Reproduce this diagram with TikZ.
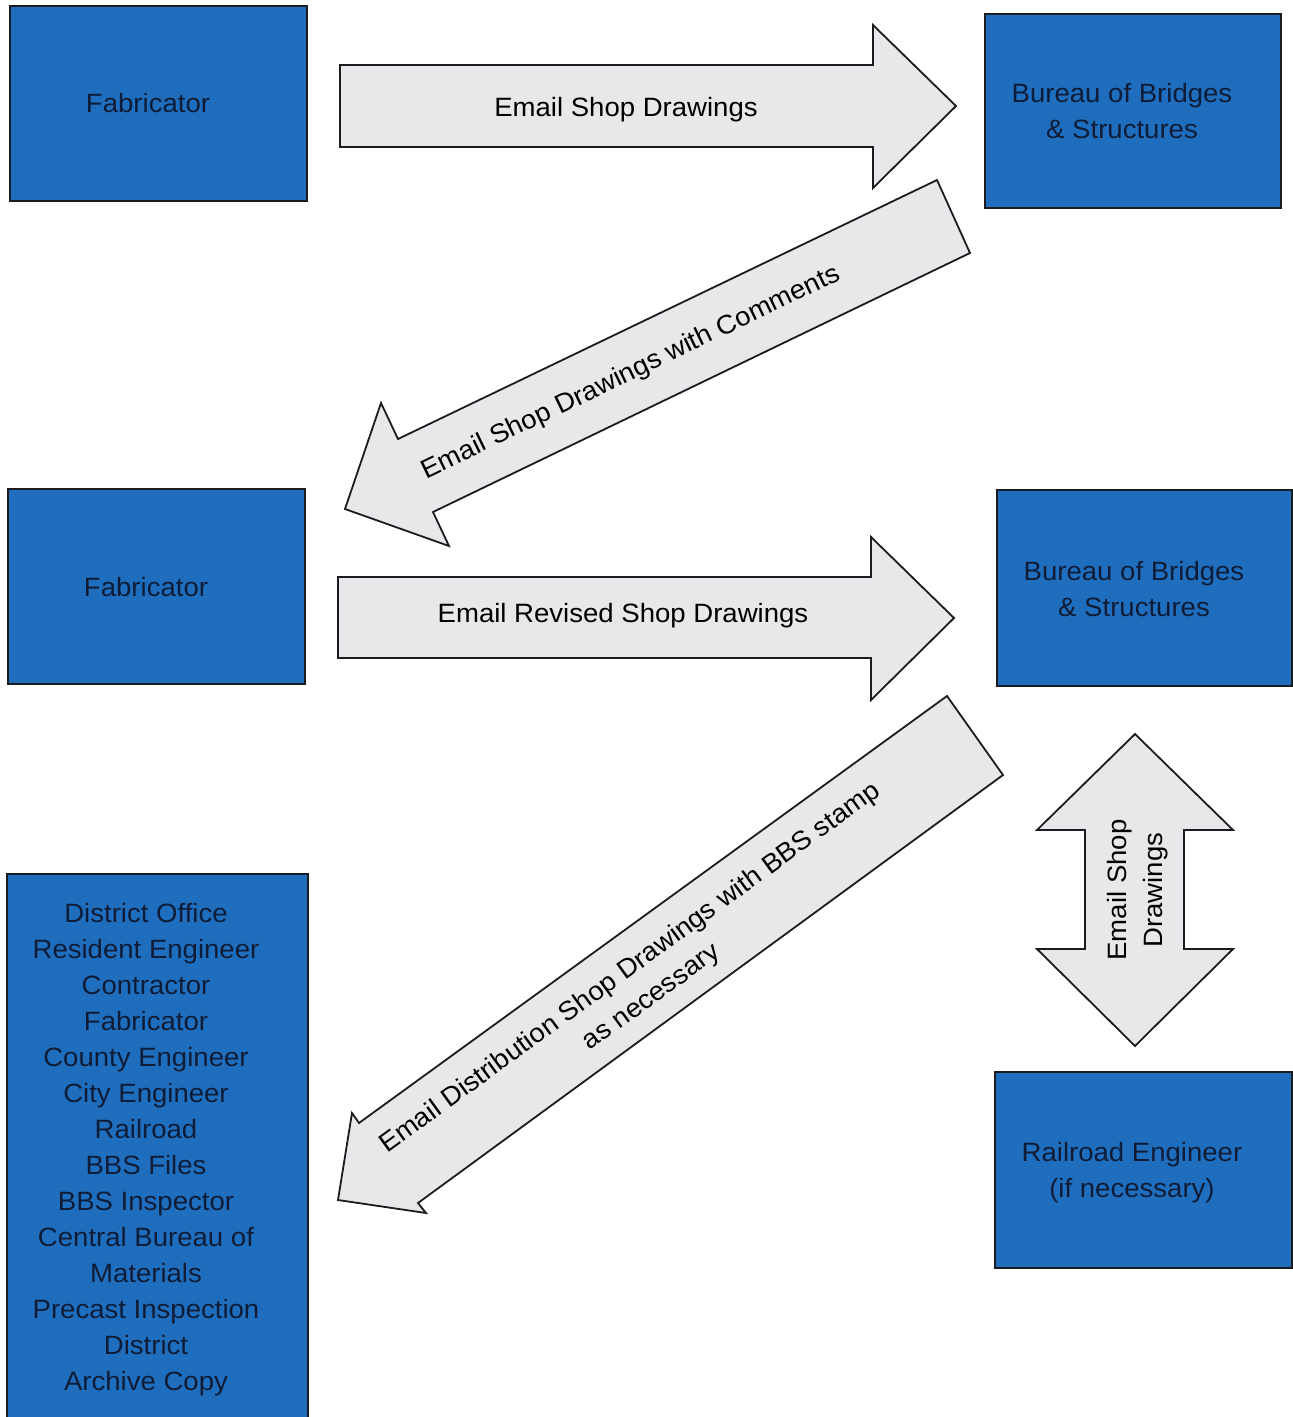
\documentclass[tikz,border=0pt]{standalone}
\usepackage{fontspec}
\setmainfont{Liberation Sans}[FakeStretch=1.04]
\definecolor{boxblue}{RGB}{31,110,190}
\definecolor{boxtext}{RGB}{15,28,55}
\definecolor{arrowfill}{RGB}{232,232,234}
\definecolor{edgecol}{RGB}{28,28,32}
\tikzset{
  bluebox/.style={draw=edgecol, line width=1.8pt, fill=boxblue, rectangle, inner sep=0pt},
  boxlabel/.style={text=boxtext, font=\fontsize{26.5}{36}\selectfont, align=center, inner sep=0pt, anchor=base},
  arrowlabel/.style={text=black, font=\fontsize{26.5}{36}\selectfont, align=center, inner sep=0pt},
  blockarrow/.style={draw=edgecol, line width=1.8pt, fill=arrowfill, line join=miter},
}
\begin{document}
\begin{tikzpicture}[x=1pt, y=-1pt]
\useasboundingbox[fill=white] (0,0) rectangle (1293,1417);

% boxes
\node[bluebox, minimum width=297pt, minimum height=195pt] (fab1) at (158.5,103.5) {};
\node[bluebox, minimum width=296pt, minimum height=194pt] (bbs1) at (1133,111) {};
\node[bluebox, minimum width=297pt, minimum height=195pt] (fab2) at (156.5,586.5) {};
\node[bluebox, minimum width=295pt, minimum height=196pt] (bbs2) at (1144.5,588) {};
\node[bluebox, minimum width=301pt, minimum height=560pt] (dist) at (157.5,1154) {};
\node[bluebox, minimum width=297pt, minimum height=196pt] (rr) at (1143.5,1170) {};

% box texts (base anchor = baseline of the last line)
\node[boxlabel] (fab1t) at (148,112) {Fabricator};
\node[boxlabel] (bbs1t) at (1122,138) {Bureau of Bridges\\\& Structures};
\node[boxlabel] (fab2t) at (146,596) {Fabricator};
\node[boxlabel] (bbs2t) at (1134,616) {Bureau of Bridges\\\& Structures};
\node[boxlabel] (distt) at (146,1390) {District Office\\Resident Engineer\\Contractor\\Fabricator\\County Engineer\\City Engineer\\Railroad\\BBS Files\\BBS Inspector\\Central Bureau of\\Materials\\Precast Inspection\\District\\Archive Copy};
\node[boxlabel] (rrt) at (1132,1197) {Railroad Engineer\\(if necessary)};

% block arrows
\draw[blockarrow] (340,65) -- (873,65) -- (873,25) -- (956,106) -- (873,188) -- (873,147) -- (340,147) -- cycle;
\node[arrowlabel, anchor=base] (a1t) at (626,116) {Email Shop Drawings};

\draw[blockarrow] (937,180) -- (970,253) -- (433,512) -- (449,546) -- (345,509) -- (381,403) -- (398,439) -- cycle;
\node[arrowlabel, rotate=25.7] (a2t) at (631,373) {Email Shop Drawings with Comments};

\draw[blockarrow] (338,577) -- (871,577) -- (871,537) -- (954,618) -- (871,700) -- (871,658) -- (338,658) -- cycle;
\node[arrowlabel, anchor=base] (a3t) at (623,622) {Email Revised Shop Drawings};

\draw[blockarrow] (947,696) -- (1003,775) -- (418,1203) -- (426,1213) -- (338,1200) -- (352,1113) -- (359,1123) -- cycle;
\node[arrowlabel, rotate=36] (a4t) at (641,983) {Email Distribution Shop Drawings with BBS stamp\\as necessary};

\path[blockarrow, draw=none] (1135,734) -- (1233,830) -- (1184,830) -- (1184,949) -- (1233,949) -- (1135,1046) -- (1037,949) -- (1085,949) -- (1085,830) -- (1037,830) -- cycle;
\begin{scope}
  \clip (1085,700) rectangle (1184,1080);
  \node[arrowlabel, rotate=90] (a5t) at (1138,890) {Email Shop\\Drawings};
\end{scope}
\draw[blockarrow, fill=none] (1135,734) -- (1233,830) -- (1184,830) -- (1184,949) -- (1233,949) -- (1135,1046) -- (1037,949) -- (1085,949) -- (1085,830) -- (1037,830) -- cycle;
\end{tikzpicture}
\end{document}
